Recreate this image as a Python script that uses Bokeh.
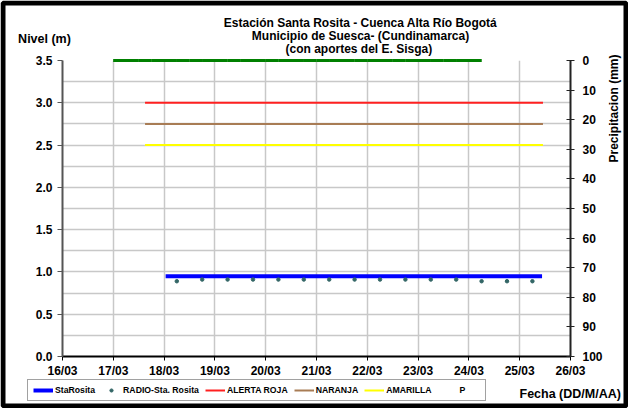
import math
from bokeh.plotting import figure
from bokeh.models import (Range1d, LinearAxis, FixedTicker, PrintfTickFormatter,
                          Label, Legend, LegendItem, BoxAnnotation)
from bokeh.embed import file_html
from bokeh.resources import INLINE

# ---------------- data ----------------
title_lines = ["Estación Santa Rosita - Cuenca Alta Río Bogotá",
               "Municipio de Suesca- (Cundinamarca)",
               "(con aportes del  E. Sisga)"]

# x values are days after 16/03 00:00
date_ticks = [0, 1, 2, 3, 4, 5, 6, 7, 8, 9, 10]
date_labels = ["16/03", "17/03", "18/03", "19/03", "20/03", "21/03",
               "22/03", "23/03", "24/03", "25/03", "26/03"]
level_ticks = [0.0, 0.5, 1.0, 1.5, 2.0, 2.5, 3.0, 3.5]
level_grid = [0.0, 0.25, 0.5, 0.75, 1.0, 1.25, 1.5, 1.75, 2.0, 2.25, 2.5,
              2.75, 3.0, 3.25, 3.5]
precip_ticks = [0, 10, 20, 30, 40, 50, 60, 70, 80, 90, 100]

# StaRosita level (m)
sta_time = [2.03, 2.5, 3.0, 3.5, 4.0, 4.5, 5.0, 5.5, 6.0, 6.5, 7.0, 7.5,
            8.0, 8.5, 9.0, 9.44]
sta_level = [0.95, 0.95, 0.95, 0.95, 0.95, 0.95, 0.95, 0.95, 0.95, 0.95,
             0.95, 0.95, 0.95, 0.95, 0.95, 0.95]

# RADIO-Sta. Rosita readings (06:00 and 18:00)
radio_time = [2.25, 2.75, 3.25, 3.75, 4.25, 4.75, 5.25, 5.75, 6.25, 6.75,
              7.25, 7.75, 8.25, 8.75, 9.25]
radio_level = [0.89, 0.91, 0.91, 0.91, 0.91, 0.91, 0.91, 0.91, 0.91, 0.91,
               0.91, 0.91, 0.89, 0.89, 0.89]

# alert thresholds (m)
alert_time = [1.625, 9.458]
alerta_roja = [3.0, 3.0]
naranja = [2.75, 2.75]
amarilla = [2.5, 2.5]

# precipitation P (mm), every 6 h
p_time = [1.125, 1.375, 1.625, 1.875, 2.125, 2.375, 2.625, 2.875, 3.125,
          3.375, 3.625, 3.875, 4.125, 4.375, 4.625, 4.875, 5.125, 5.375,
          5.625, 5.875, 6.125, 6.375, 6.625, 6.875, 7.125, 7.375, 7.625,
          7.875, 8.125]
p_mm = [0, 0, 0, 0, 0, 0, 0, 0, 0, 0, 0, 0, 0, 0, 0, 0, 0, 0, 0, 0, 0, 0,
        0, 0, 0, 0, 0, 0, 0]

FONT = "Liberation Sans"
W, H = 628, 408
FL, FR, FT, FB = 62, 570, 60, 356      # plotting frame edges, canvas pixels
X0, X1, Y0, Y1 = 0, 10, 0, 3.5
P_TOP, P_BOTTOM = 0, 100               # precipitation axis (inverted)


def dx(px):
    return X0 + (px - FL) * (X1 - X0) / (FR - FL)


def dy(py):
    return Y0 + (FB - py) * (Y1 - Y0) / (FB - FT)


def dp(py):
    return P_TOP + (py - FT) * (P_BOTTOM - P_TOP) / (FB - FT)


# ---------- base figure: axes and grid ----------
p = figure(width=W, height=H, output_backend="svg", toolbar_location=None,
           x_range=Range1d(X0, X1), y_range=Range1d(Y0, Y1),
           min_border_left=FL, min_border_right=W - FR, min_border_top=FT,
           min_border_bottom=H - FB, x_axis_location=None, y_axis_location=None,
           background_fill_color="white", border_fill_color="white")
p.outline_line_color = None
p.extra_y_ranges = {"precip": Range1d(P_BOTTOM, P_TOP)}


def style_axis(ax):
    ax.major_label_text_font = FONT
    ax.major_label_text_font_style = "bold"
    ax.major_label_text_font_size = "12px"
    ax.major_label_text_color = "black"
    ax.minor_tick_line_color = None


xaxis = LinearAxis(ticker=FixedTicker(ticks=date_ticks))
xaxis.major_label_overrides = {t: l for t, l in zip(date_ticks, date_labels)}
style_axis(xaxis)
xaxis.axis_line_color = "black"
xaxis.axis_line_width = 2
xaxis.major_tick_line_color = "black"
xaxis.major_tick_in = 0
xaxis.major_tick_out = 4
xaxis.major_label_standoff = 3
p.add_layout(xaxis, "below")

yaxis = LinearAxis(ticker=FixedTicker(ticks=level_ticks),
                   formatter=PrintfTickFormatter(format="%.1f"))
style_axis(yaxis)
yaxis.axis_line_color = "#555555"
yaxis.axis_line_width = 2
yaxis.major_tick_line_color = "#555555"
yaxis.major_tick_in = 0
yaxis.major_tick_out = 5
yaxis.major_label_standoff = 5
p.add_layout(yaxis, "left")

raxis = LinearAxis(y_range_name="precip", ticker=FixedTicker(ticks=precip_ticks))
style_axis(raxis)
raxis.axis_line_color = "#222222"
raxis.axis_line_width = 2
raxis.major_tick_line_color = "#222222"
raxis.major_tick_in = 4
raxis.major_tick_out = 4
raxis.major_label_standoff = 8
p.add_layout(raxis, "right")

p.xgrid.ticker = FixedTicker(ticks=date_ticks)
p.ygrid.ticker = FixedTicker(ticks=level_grid)
for g in (p.xgrid, p.ygrid):
    g.grid_line_color = "#C8C8C8"
    g.grid_line_width = 1.5

# ---------- overlay figure: same scales, frame = whole canvas ----------
q = figure(width=W, height=H, output_backend="svg", toolbar_location=None,
           x_range=Range1d(dx(0), dx(W)), y_range=Range1d(dy(H), dy(0)),
           min_border=0, x_axis_type=None, y_axis_type=None,
           background_fill_alpha=0, border_fill_alpha=0)
q.outline_line_color = None
q.extra_y_ranges = {"precip": Range1d(dp(H), dp(0))}
q.margin = (-H, 0, 0, 0)

# series
r_roja = q.line(alert_time, alerta_roja, line_color="#FF2020", line_width=2)
r_nar = q.line(alert_time, naranja, line_color="#A87C55", line_width=2)
r_ama = q.line(alert_time, amarilla, line_color="#FFFF00", line_width=2)
r_sta = q.line(sta_time, sta_level, line_color="#0000FF", line_width=4)
r_radio = q.scatter(radio_time, radio_level, marker="circle", size=3.5,
                    fill_color="#336666", line_color="#336666")
q.scatter(p_time, p_mm, y_range_name="precip", marker="dash", size=13,
          line_color="#008000", line_width=3)
# legend swatch for P (small square marker, as in the original legend)
r_p_leg = q.scatter([], [], y_range_name="precip", marker="square", size=4,
                    fill_color="#008000", line_color="#008000")

legend = Legend(items=[
    LegendItem(label="StaRosita", renderers=[r_sta]),
    LegendItem(label="RADIO-Sta. Rosita", renderers=[r_radio]),
    LegendItem(label="ALERTA ROJA", renderers=[r_roja]),
    LegendItem(label="NARANJA", renderers=[r_nar]),
    LegendItem(label="AMARILLA", renderers=[r_ama]),
    LegendItem(label="P", renderers=[r_p_leg]),
], orientation="horizontal", location=(27, H - 401))
legend.label_text_font = FONT
legend.label_text_font_style = "bold"
legend.label_text_font_size = "8.7px"
legend.label_text_color = "black"
legend.label_height = 8
legend.glyph_height = 8
legend.glyph_width = 20
legend.label_standoff = 2
legend.spacing = 6
legend.padding = 5
legend.margin = 0
legend.border_line_color = "#444444"
legend.border_line_width = 1
legend.background_fill_color = "white"
legend.background_fill_alpha = 1
q.add_layout(legend, "center")


def add_text(txt, px, py, size, align="center", angle=0.0):
    q.add_layout(Label(x=dx(px), y=dy(py), text=txt, text_font=FONT,
                       text_font_style="bold", text_font_size=size,
                       text_align=align, text_baseline="middle", angle=angle,
                       text_color="black"))


for i, line in enumerate(title_lines):
    add_text(line, 360, 22 + 13 * i, "12px")
add_text("Nivel (m)", 44, 38, "12.5px")
add_text("Precipitacion (mm)", 613, 108, "12px", angle=math.pi / 2)
add_text("Fecha (DD/M/AA)", 519, 393, "12.5px", align="left")

# outer black frame of the picture
q.add_layout(BoxAnnotation(left=dx(2.5), right=dx(W - 2.5), top=dy(2.5),
                           bottom=dy(H - 2.5), fill_alpha=0, line_alpha=1,
                           line_color="black", line_width=5))

open("out.html", "w").write(file_html([p, q], INLINE))
